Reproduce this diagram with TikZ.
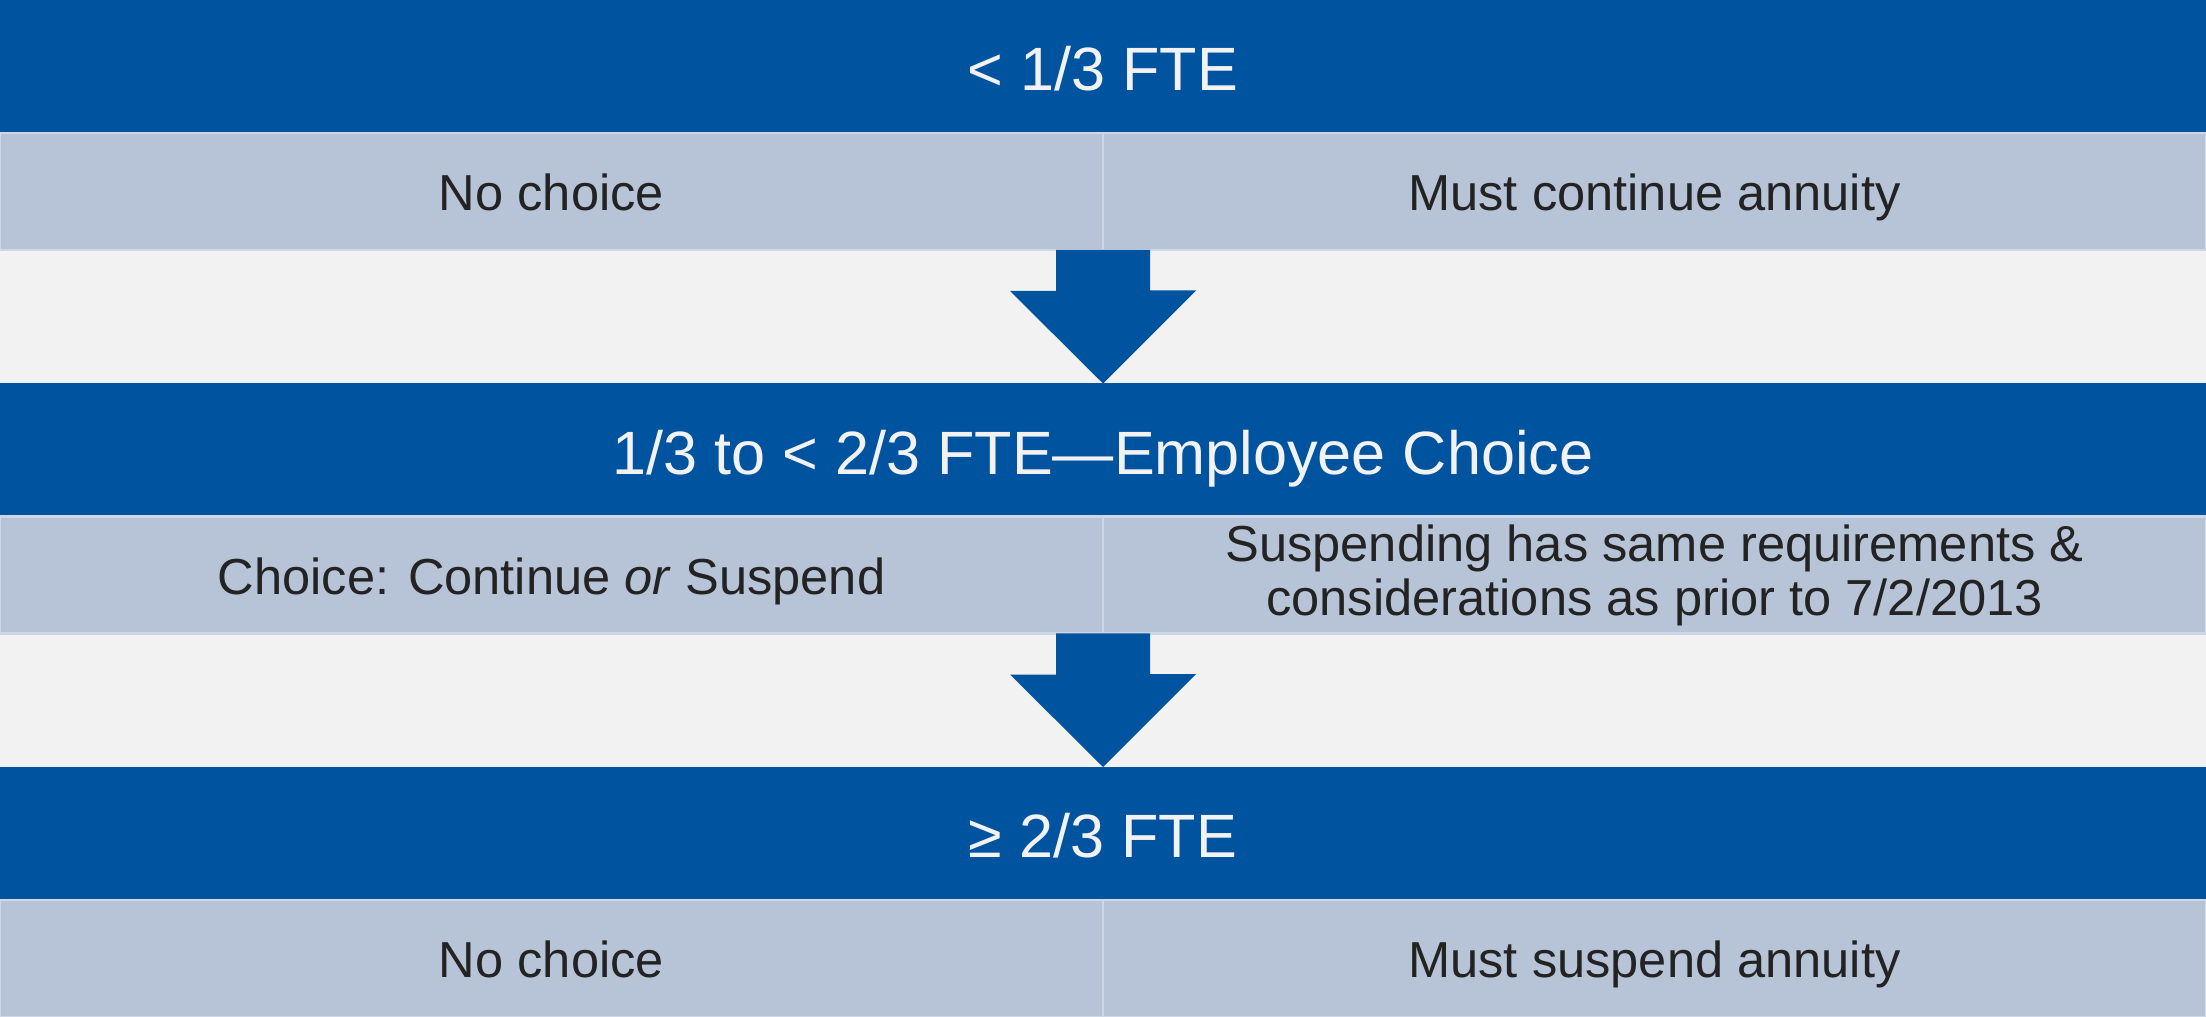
\documentclass[tikz,border=0pt]{standalone}
\usepackage{fontspec}
\setmainfont{Liberation Sans}
\usepackage{tikz}
\usetikzlibrary{positioning,calc}
\usepackage{xcolor}
\definecolor{fteblue}{RGB}{0,83,159}
\definecolor{ftelight}{RGB}{183,196,215}
\definecolor{fteedge}{RGB}{206,215,229}
\definecolor{ftebg}{RGB}{242,242,242}
\definecolor{ftetext}{RGB}{35,35,35}
\tikzstyle{band} = [rectangle, minimum width=22.06cm, minimum height=1.33cm, inner sep=0pt, outer sep=0pt, text centered, text height=13.8pt, text depth=0pt, fill=fteblue, text=ftebg, font=\fontsize{17.4}{20}\selectfont]
\tikzstyle{cell} = [rectangle, minimum width=11.03cm, minimum height=1.17cm, inner sep=0pt, outer sep=0pt, align=center, text height=11pt, text depth=0pt, fill=ftelight, draw=fteedge, line width=0.6pt, text=ftetext, font=\fontsize{14.4}{15.4}\selectfont]
\tikzstyle{twoline} = [text height={}, text depth={}]
\tikzstyle{flow} = [fill=fteblue]

\begin{document}
\begin{tikzpicture}
\fill[ftebg] (0,0) rectangle (22.06,-10.17);
\useasboundingbox (0,0) rectangle (22.06,-10.17);

% Bands
\node (low) [band] at (11.03,-0.665) {< 1/3 FTE};
\node (lowleft) [cell, below right=0cm of low.south west] {No choice};
\node (lowright) [cell, right=0cm of lowleft] {Must continue annuity};

\node (mid) [band, below=1.335cm of lowleft.south east] {1/3 to < 2/3 FTE—Employee Choice};
\node (midleft) [cell, below right=0cm of mid.south west] {Choice: Continue \textit{or} Suspend};
\node (midright) [cell, twoline, right=0cm of midleft] {Suspending has same requirements \&\\considerations as prior to 7/2/2013};

\node (high) [band, below=1.335cm of midleft.south east] {≥ 2/3 FTE};
\node (highleft) [cell, below right=0cm of high.south west] {No choice};
\node (highright) [cell, right=0cm of highleft] {Must suspend annuity};

% Arrows
\fill[flow] ([xshift=-4.7mm]lowleft.south east) -- ++(0,-0.41) -- ++(-0.46,0) -- (mid.north) -- ++(0.93,0.93) -- ++(-0.46,0) -- ([xshift=4.7mm]lowleft.south east) -- cycle;
\fill[flow] ([xshift=-4.7mm]midleft.south east) -- ++(0,-0.41) -- ++(-0.46,0) -- (high.north) -- ++(0.93,0.93) -- ++(-0.46,0) -- ([xshift=4.7mm]midleft.south east) -- cycle;
\end{tikzpicture}
\end{document}
